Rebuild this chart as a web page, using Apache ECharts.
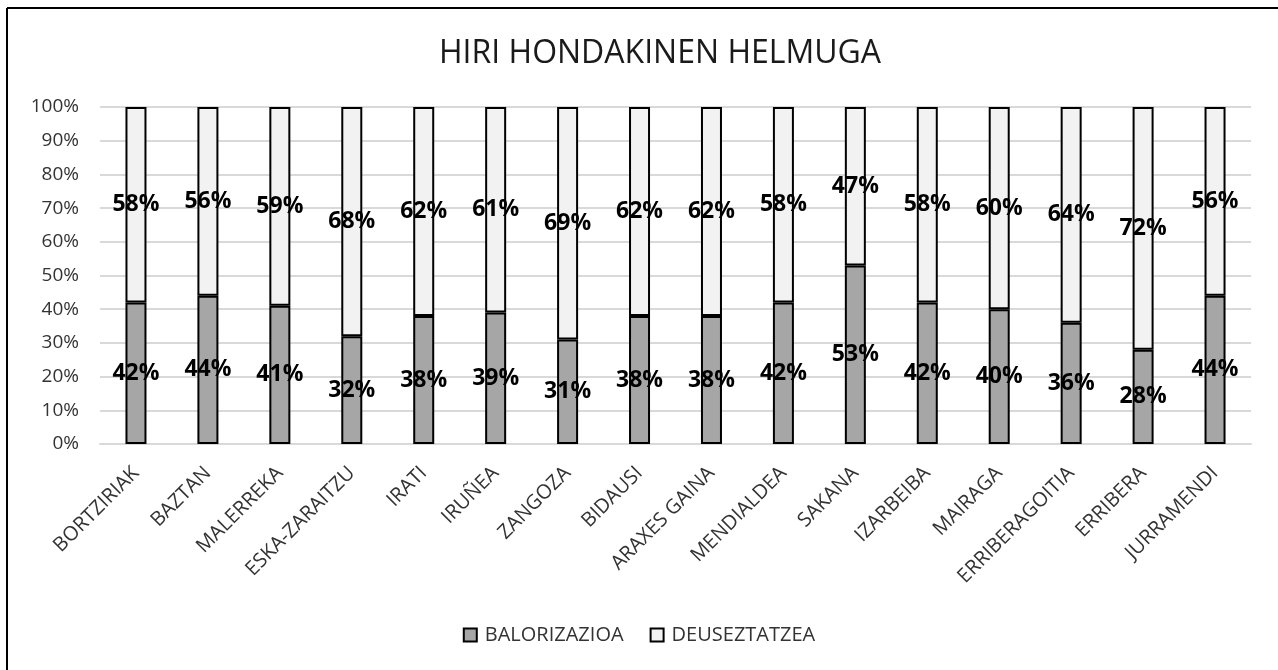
<!DOCTYPE html>
<html>
<head>
<meta charset="utf-8" />
<script src="https://cdn.jsdelivr.net/npm/echarts@6/dist/echarts.min.js"></script>
<style>
  body { margin: 0; background: #fff; }
  #chart { width: 1278px; height: 670px; }
</style>
</head>
<body>
<div id="chart"></div>
<script>
// eskualdeak
var categories = ['BORTZIRIAK', 'BAZTAN', 'MALERREKA', 'ESKA-ZARAITZU', 'IRATI', 'IRUÑEA',
  'ZANGOZA', 'BIDAUSI', 'ARAXES GAINA', 'MENDIALDEA', 'SAKANA', 'IZARBEIBA',
  'MAIRAGA', 'ERRIBERAGOITIA', 'ERRIBERA', 'JURRAMENDI'];
var balorizazioa = [42, 44, 41, 32, 38, 39, 31, 38, 38, 42, 53, 42, 40, 36, 28, 44];
var deuseztatzea = [58, 56, 59, 68, 62, 61, 69, 62, 62, 58, 47, 58, 60, 64, 72, 56];
var yTicks = [0, 10, 20, 30, 40, 50, 60, 70, 80, 90, 100];

var font = 'Open Sans';
var chart = echarts.init(document.getElementById('chart'));

function serie(name, values, color) {
  return {
    name: name,
    type: 'bar',
    stack: 'total',
    barWidth: 21,
    data: values,
    itemStyle: { color: color, borderColor: '#000', borderWidth: 2 },
    label: {
      show: true,
      position: 'inside',
      formatter: '{c}%',
      color: '#000',
      fontFamily: font,
      fontWeight: 'bold',
      fontSize: 23
    },
    emphasis: { disabled: true }
  };
}

var option = {
  animation: false,
  title: {
    text: 'HIRI HONDAKINEN HELMUGA',
    left: 434,
    top: 33,
    textStyle: { fontFamily: font, fontWeight: 'normal', fontSize: 32, color: '#1a1a1a' }
  },
  legend: {
    bottom: 20,
    left: 'center',
    itemWidth: 13,
    itemHeight: 13,
    itemGap: 26,
    icon: 'rect',
    textStyle: { fontFamily: font, fontSize: 20, color: '#333', padding: [0, 0, 0, 3] },
    data: ['BALORIZAZIOA', 'DEUSEZTATZEA']
  },
  grid: { left: 100, right: 27, top: 107, bottom: 226 },
  xAxis: {
    type: 'category',
    data: categories,
    axisLine: { lineStyle: { color: '#d9d9d9', width: 2 } },
    axisTick: { show: false },
    axisLabel: { interval: 0, rotate: 45, margin: 26, fontFamily: font, fontSize: 20, color: '#333' }
  },
  yAxis: {
    type: 'value',
    min: yTicks[0],
    max: yTicks[yTicks.length - 1],
    interval: 10,
    axisLine: { show: false },
    axisTick: { show: false },
    splitLine: { lineStyle: { color: '#d9d9d9', width: 2 } },
    axisLabel: { formatter: '{value}%', margin: 21, fontFamily: font, fontSize: 19, color: '#333' }
  },
  series: [
    serie('BALORIZAZIOA', balorizazioa, '#a6a6a6'),
    serie('DEUSEZTATZEA', deuseztatzea, '#f2f2f2')
  ],
  graphic: [
    { type: 'line', shape: { x1: 7, y1: 8, x2: 1278, y2: 8 }, style: { stroke: '#000', lineWidth: 2 } },
    { type: 'line', shape: { x1: 7, y1: 8, x2: 7, y2: 670 }, style: { stroke: '#000', lineWidth: 2 } }
  ]
};

chart.setOption(option);
</script>
</body>
</html>
